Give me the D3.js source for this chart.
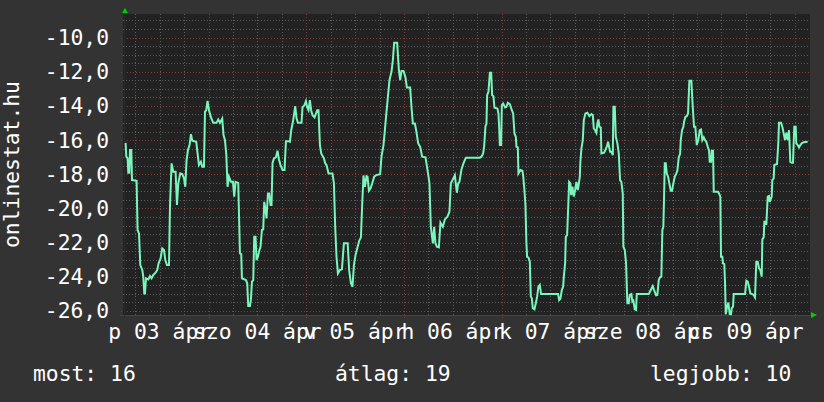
<!DOCTYPE html>
<html><head><meta charset="utf-8">
<script src="https://cdn.jsdelivr.net/npm/d3@7"></script>
<style>html,body{margin:0;padding:0;background:#333333;}svg{display:block;}</style>
</head><body>
<svg id="chart" width="824" height="402"></svg>
<script>
// ---- data (hours since 2009-04-03 00:00, value) ----
const hours = [3.62,3.79,4.11,4.28,4.53,4.70,5.02,5.19,6.32,6.56,6.91,7.23,7.72,7.96,8.21,8.38,8.63,9.19,9.61,10.00,10.42,10.98,11.40,11.72,12.21,12.63,13.05,13.37,13.78,14.28,14.52,14.91,15.33,15.90,16.24,16.56,17.05,17.54,17.96,18.28,18.60,18.94,19.33,19.68,20.00,20.98,21.30,21.64,22.13,22.45,22.87,23.12,23.44,23.75,24.10,24.59,25.15,25.96,26.38,26.80,27.36,27.68,28.03,28.35,28.67,29.01,29.50,29.99,30.31,30.63,31.29,
31.71,32.03,32.20,33.18,33.50,33.75,34.17,34.41,34.66,34.98,35.22,35.54,35.79,36.13,36.45,36.77,37.11,37.43,37.68,38.00,38.24,38.59,38.91,39.23,39.47,39.72,40.06,40.55,40.94,41.29,41.68,42.17,42.66,43.01,43.65,43.99,44.31,44.80,45.29,45.61,45.95,46.84,47.08,47.57,47.92,48.24,48.56,48.90,49.22,49.54,50.03,50.69,51.01,51.36,51.68,52.34,52.66,52.98,53.47,54.45,54.80,55.11,55.43,55.78,56.27,56.76,57.25,58.18,58.55,58.97,59.36,
59.71,60.10,60.52,61.01,61.43,61.74,62.06,62.41,62.80,63.05,63.39,63.78,64.20,64.69,65.18,66.16,66.48,66.98,67.32,67.64,68.06,68.45,68.94,69.28,69.60,70.34,70.76,71.08,71.40,71.89,72.38,72.72,73.53,73.85,74.19,74.69,75.00,75.50,75.99,76.48,77.29,77.95,78.27,78.61,79.11,79.43,79.74,80.09,80.58,80.97,81.56,82.05,82.69,83.18,83.53,84.02,84.51,85.00,85.32,85.64,86.13,86.62,87.21,
90.65,91.04,91.46,91.71,92.03,92.27,92.44,92.76,93.11,93.43,93.67,93.99,94.24,94.97,95.22,95.39,95.56,95.88,96.05,96.37,96.86,97.18,97.53,98.02,98.51,98.83,99.15,99.49,99.64,99.98,100.13,100.62,101.11,101.28,101.60,101.85,102.09,102.26,102.58,102.93,103.17,103.42,103.66,104.06,104.40,104.72,105.04,105.38,105.70,109.88,110.12,110.44,110.79,111.11,111.28,111.60,111.77,112.09,112.41,112.58,112.90,113.07,113.39,113.73,114.05,114.37,114.71,114.86,115.21,115.35,115.60,115.94,
116.19,116.58,117.07,117.56,118.05,118.40,118.64,118.96,119.28,119.53,119.77,120.02,120.36,120.51,121.17,121.49,121.84,122.15,122.40,122.65,122.96,123.31,123.46,123.80,124.05,124.44,124.78,125.10,125.42,125.76,125.91,126.26,126.57,126.89,127.24,127.48,127.88,128.12,128.37,128.71,129.03,129.20,132.15,132.64,133.13,133.45,133.94,134.26,134.60,134.92,135.24,135.49,135.73,135.91,136.08,136.32,136.57,136.89,137.21,137.55,137.87,138.19,138.53,138.85,139.17,139.52,139.84,140.01,140.33,140.65,140.82,141.14,141.48,141.80,142.12,142.61,142.95,143.27,143.59,143.94,
144.33,144.67,144.99,145.31,145.66,145.97,146.29,146.64,146.96,147.13,147.45,147.62,147.94,148.11,149.17,149.41,149.73,149.90,150.22,150.39,150.71,150.89,151.06,151.38,151.70,152.04,152.36,152.53,152.85,153.02,155.80,156.12,156.46,156.78,157.10,157.59,157.93,158.25,158.57,158.92,159.23,159.55,159.90,160.05,160.39,160.54,160.88,161.03,161.37,161.69,161.86,162.35,162.50,162.84,162.99,163.66,163.97,164.15,164.64,164.96,165.30,165.62,165.94,166.28,166.60,166.92,167.26,167.58,167.90,168.25,168.39,168.74,169.06,169.38,169.72,170.21,171.19];
const values = [-16.16,-16.97,-17.07,-17.91,-17.91,-16.58,-16.58,-18.34,-18.38,-21.26,-21.46,-23.31,-23.60,-23.99,-24.97,-24.97,-24.09,-24.15,-23.95,-24.09,-23.89,-23.76,-23.60,-23.21,-22.92,-22.34,-22.43,-23.02,-23.31,-23.31,-19.90,-17.36,-17.85,-17.85,-19.80,-18.53,-17.95,-17.99,-18.24,-18.73,-17.17,-16.58,-16.29,-15.65,-16.04,-16.10,-16.78,-17.46,-17.27,-17.56,-17.56,-14.34,-14.25,-13.70,-14.25,-14.67,-14.99,-14.99,-14.79,-14.99,-14.75,-15.71,-16.00,-16.82,-18.73,-18.14,-18.44,-18.44,-19.31,-18.44,-18.50,
-22.63,-22.67,-24.09,-24.19,-24.38,-25.71,-25.71,-25.32,-24.28,-24.19,-21.65,-21.65,-23.02,-22.82,-22.47,-22.24,-21.26,-21.22,-19.61,-20.09,-20.58,-19.12,-19.12,-19.80,-19.80,-17.33,-17.07,-17.01,-16.62,-17.13,-17.46,-17.75,-17.75,-16.06,-16.06,-16.10,-15.42,-14.83,-14.01,-14.73,-14.99,-14.99,-14.09,-13.95,-13.72,-14.09,-14.25,-13.66,-14.28,-14.54,-14.67,-14.25,-14.25,-16.29,-16.78,-17.07,-17.36,-17.46,-17.95,-17.95,-18.53,-21.07,-22.82,-23.80,-23.60,-23.56,-22.04,-22.04,-23.64,-24.38,-24.58,
-23.31,-22.73,-22.34,-21.89,-21.69,-19.80,-18.07,-18.73,-18.11,-18.14,-18.96,-18.83,-18.53,-18.14,-18.05,-17.99,-16.97,-16.29,-15.42,-14.54,-13.47,-12.49,-12.00,-11.32,-10.31,-10.31,-11.91,-12.49,-11.95,-11.95,-12.34,-12.92,-12.92,-14.05,-15.03,-15.03,-15.42,-16.19,-16.39,-16.97,-17.01,-17.99,-18.53,-21.07,-22.04,-21.07,-22.04,-22.24,-22.28,-20.83,-21.07,-20.64,-20.48,-20.19,-18.53,-18.30,-18.05,-19.08,-18.53,-18.44,-17.72,-17.36,-17.03,
-17.03,-16.97,-16.78,-16.35,-15.18,-15.06,-13.37,-13.17,-12.06,-12.06,-13.37,-13.43,-14.11,-14.15,-14.44,-15.22,-16.29,-16.29,-13.95,-13.86,-14.09,-14.05,-13.82,-13.89,-14.25,-14.44,-15.61,-15.81,-16.39,-16.43,-17.95,-17.75,-17.79,-18.05,-18.92,-19.80,-22.04,-22.82,-22.86,-23.12,-25.16,-25.26,-25.84,-25.90,-25.55,-25.16,-24.58,-24.48,-25.01,-25.01,-25.36,-25.28,-24.77,-24.58,-23.99,-23.21,-21.65,-21.56,-19.61,-18.44,-18.53,-19.22,-18.73,-19.31,-18.92,-18.44,-18.92,-18.73,-18.14,-17.27,-16.50,-16.00,
-14.83,-14.44,-14.40,-14.60,-14.48,-14.54,-15.32,-15.42,-15.57,-15.03,-14.79,-15.22,-15.26,-16.78,-16.74,-16.58,-16.39,-16.10,-16.39,-16.68,-16.68,-16.88,-14.05,-14.05,-15.81,-16.19,-16.78,-18.34,-18.44,-19.12,-22.24,-22.43,-23.21,-25.55,-25.55,-25.06,-25.01,-25.45,-25.40,-25.90,-25.94,-25.01,-25.01,-24.77,-24.54,-24.77,-25.08,-25.06,-24.19,-24.03,-23.99,-21.26,-21.07,-19.31,-17.36,-17.36,-17.95,-18.14,-18.53,-18.96,-18.96,-18.53,-18.14,-17.99,-17.79,-17.01,-16.82,-16.00,-15.42,-15.22,-14.93,-14.64,-14.60,-14.44,-12.53,-12.53,-14.05,-15.22,-15.22,-16.29,
-16.00,-15.42,-15.38,-16.00,-15.84,-16.00,-16.10,-16.39,-16.62,-17.27,-17.27,-16.62,-16.62,-19.02,-19.02,-19.12,-19.31,-22.82,-22.82,-23.21,-23.25,-24.38,-26.19,-25.75,-25.51,-26.18,-26.19,-25.84,-25.75,-25.01,-25.01,-24.23,-24.28,-24.58,-24.97,-25.01,-25.06,-25.20,-23.12,-23.12,-23.50,-23.60,-23.99,-21.81,-21.69,-20.78,-20.78,-20.97,-19.31,-19.27,-19.61,-19.31,-18.34,-18.24,-17.46,-17.40,-16.19,-14.99,-14.99,-15.22,-15.61,-16.00,-15.57,-16.00,-15.42,-17.27,-17.33,-17.33,-15.22,-15.22,-16.19,-16.29,-16.43,-16.29,-16.19,-16.12,-16.10];

const startDate = Date.UTC(2009, 3, 3);       // 2009-04-03 (péntek)
const timeDomainHours = [2.98, 171.76];
const valueDomain = [-26.234, -8.621];
const majorValues = [-26, -24, -22, -20, -18, -16, -14, -12, -10];
const dayAbbr = ["v", "h", "k", "sze", "cs", "p", "szo"];
const monthAbbr = ["jan", "febr", "márc", "ápr", "máj", "jún", "júl", "aug", "szept", "okt", "nov", "dec"];
const legendItems = ["most: 16", "átlag: 19", "legjobb: 10"];
const verticalTitle = "onlinestat.hu";

// ---- layout ----
const W = 824, H = 402;
const plot = {left: 123, right: 810, top: 14, bottom: 315};
const FONT = "'DejaVu Sans Mono', 'Liberation Mono', monospace";
const FS = 21.33;

const toDate = h => new Date(startDate + h * 3600000);
const x = d3.scaleUtc().domain(timeDomainHours.map(toDate)).range([plot.left, plot.right]);
const y = d3.scaleLinear().domain(valueDomain).range([plot.bottom, plot.top]);

const svg = d3.select("#chart");
svg.append("rect").attr("width", W).attr("height", H).attr("fill", "#333333");
svg.append("rect").attr("x", plot.left).attr("y", plot.top)
  .attr("width", plot.right - plot.left).attr("height", plot.bottom - plot.top).attr("fill", "#222222");

const px = v => Math.round(v) + 0.5;
const grid = svg.append("g").attr("shape-rendering", "crispEdges");
const minorCol = "#5c5c5c", majorCol = "#823a3a";

// horizontal grid
const minorVals = d3.range(Math.ceil(valueDomain[0] * 2) / 2, valueDomain[1], 0.5)
  .filter(v => !majorValues.includes(v));
grid.selectAll(".hmin").data(minorVals).join("line")
  .attr("x1", plot.left).attr("x2", plot.right)
  .attr("y1", d => px(y(d))).attr("y2", d => px(y(d)))
  .attr("stroke", minorCol).attr("stroke-dasharray", "1,2");
grid.selectAll(".hmaj").data(majorValues).join("line")
  .attr("x1", plot.left - 2).attr("x2", plot.right)
  .attr("y1", d => px(y(d))).attr("y2", d => px(y(d)))
  .attr("stroke", majorCol).attr("stroke-dasharray", "1,2");

// vertical grid
const sixH = x.ticks(d3.utcHour.every(6));
const days = x.ticks(d3.utcDay.every(1));
const minorTimes = sixH.filter(t => t.getUTCHours() !== 0);
grid.selectAll(".vmin").data(minorTimes).join("line")
  .attr("x1", d => px(x(d))).attr("x2", d => px(x(d)))
  .attr("y1", plot.top).attr("y2", plot.bottom + 2)
  .attr("stroke", minorCol).attr("stroke-dasharray", "1,2");
grid.selectAll(".vmaj").data(days).join("line")
  .attr("x1", d => px(x(d))).attr("x2", d => px(x(d)))
  .attr("y1", plot.top).attr("y2", plot.bottom + 3)
  .attr("stroke", majorCol).attr("stroke-dasharray", "1,2");

// axes lines
grid.append("line").attr("x1", plot.left - 3).attr("x2", plot.right + 3)
  .attr("y1", plot.bottom + 0.5).attr("y2", plot.bottom + 0.5).attr("stroke", "#444444");
grid.append("line").attr("x1", plot.left + 1.5).attr("x2", plot.left + 1.5)
  .attr("y1", plot.top - 3).attr("y2", plot.bottom + 3).attr("stroke", "#2c2c2c");

// arrows
svg.append("path").attr("fill", "#00cc00")
  .attr("d", d3.line()([[plot.left - 1, plot.top - 1], [plot.left + 5, plot.top - 1], [plot.left + 2, plot.top - 6]]) + "Z");
svg.append("path").attr("fill", "#00cc00")
  .attr("d", d3.line()([[plot.right + 1, plot.bottom - 3], [plot.right + 1, plot.bottom + 3], [plot.right + 7, plot.bottom]]) + "Z");

// data line
const series = hours.map((h, i) => ({t: toDate(h), v: values[i]}));
svg.append("path").datum(series)
  .attr("fill", "none").attr("stroke", "#7af5bd").attr("stroke-width", 2)
  .attr("stroke-linejoin", "miter")
  .attr("d", d3.line().x(d => x(d.t)).y(d => y(d.v)));

// y labels
const loc = d3.formatLocale({decimal: ",", thousands: " ", grouping: [3], currency: ["", ""], minus: "-"});
const fmt = loc.format(".1f");
svg.append("g").selectAll("text").data(majorValues).join("text")
  .attr("x", 109).attr("y", d => y(d)).attr("dy", "0.35em")
  .attr("text-anchor", "end").attr("fill", "#ffffff")
  .attr("font-family", FONT).attr("font-size", FS)
  .text(d => fmt(d));

// x labels at noon of each day
const noons = days.map(d => new Date(+d + 12 * 3600000));
noons.unshift(new Date(+days[0] - 12 * 3600000));
const labelTimes = noons.filter(t => x(t) >= plot.left && x(t) <= plot.right);
svg.append("g").selectAll("text").data(labelTimes).join("text")
  .attr("x", d => x(d)).attr("y", 339)
  .attr("text-anchor", "middle").attr("fill", "#ffffff")
  .attr("font-family", FONT).attr("font-size", FS)
  .text(d => `${dayAbbr[d.getUTCDay()]} ${String(d.getUTCDate()).padStart(2, "0")} ${monthAbbr[d.getUTCMonth()]}`);

// vertical title
svg.append("text").attr("transform", `translate(18.5,${(plot.top + plot.bottom) / 2}) rotate(-90)`)
  .attr("text-anchor", "middle").attr("fill", "#ffffff")
  .attr("font-family", FONT).attr("font-size", FS).text(verticalTitle);

// legend
const legendX = [33, 335, 650];
svg.append("g").selectAll("text").data(legendItems).join("text")
  .attr("x", (d, i) => legendX[i]).attr("y", 381)
  .attr("fill", "#ffffff").attr("font-family", FONT).attr("font-size", FS)
  .text(d => d);
</script>
</body></html>
